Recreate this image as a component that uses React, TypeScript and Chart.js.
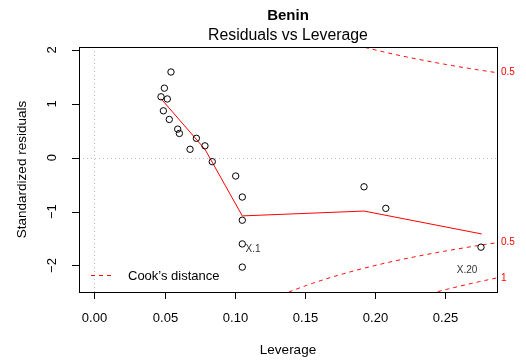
import { useEffect, useRef } from "react";
import { Chart, registerables } from "chart.js";

Chart.register(...registerables);

// Observations: leverage (hat values) and standardized residuals
const leverage = [
  0.0546, 0.0499, 0.0475, 0.052, 0.0492, 0.0534, 0.0594, 0.0606, 0.0727, 0.0682,
  0.0788, 0.084, 0.1007, 0.1054, 0.1054, 0.1054, 0.1054, 0.1921, 0.2076, 0.2754,
];
const stdResiduals = [
  1.59, 1.29, 1.13, 1.09, 0.87, 0.71, 0.53, 0.45, 0.36, 0.156,
  0.22, -0.074, -0.34, -0.73, -1.16, -1.6, -2.03, -0.54, -0.94, -1.66,
];

// Smoother through the residuals
const smoothLeverage = [0.0475, 0.0788, 0.1054, 0.1921, 0.2759];
const smoothResidual = [1.095, 0.157, -1.08, -0.99, -1.415];

// Labelled observations (text anchor in data units)
const idLabels = ["X.1", "X.20"];
const idLabelLeverage = [0.113, 0.2655];
const idLabelResidual = [-1.694, -2.084];

// Cook's distance contour levels and number of model parameters
const cookLevels = [0.5, 1];
const nParams = 2;

const xTicks = [0, 0.05, 0.1, 0.15, 0.2, 0.25];
const xTickLabels = ["0.00", "0.05", "0.10", "0.15", "0.20", "0.25"];
const yTicks = [-2, -1, 0, 1, 2];
const yTickLabels = ["\u22122", "\u22121", "0", "1", "2"];

const xRange = [-0.0109, 0.2868];
const yRange = [-2.492, 2.054];

const FONT = '"Liberation Sans", Arial, Helvetica, sans-serif';
const RED = "#FF0000";

// Cook's distance contour: r = ±sqrt(D * p * (1 - h) / h)
function cookCurve(level: number, sign: number) {
  const pts: { x: number; y: number }[] = [];
  const h0 = 0.01;
  const h1 = xRange[1];
  const n = 200;
  for (let i = 0; i <= n; i++) {
    const h = h0 + ((h1 - h0) * i) / n;
    pts.push({ x: h, y: sign * Math.sqrt((level * nParams * (1 - h)) / h) });
  }
  return pts;
}

const framePlugin = {
  id: "rFrame",
  beforeDatasetsDraw(chart: any) {
    const { ctx, chartArea: a, scales } = chart;
    const x0 = Math.round(scales.x.getPixelForValue(0)) + 0.5;
    const y0 = Math.round(scales.y.getPixelForValue(0)) + 0.5;
    ctx.save();
    ctx.strokeStyle = "#BEBEBE";
    ctx.lineWidth = 1;
    ctx.setLineDash([1, 3]);
    ctx.beginPath();
    ctx.moveTo(a.left, y0);
    ctx.lineTo(a.right, y0);
    ctx.moveTo(x0, a.top);
    ctx.lineTo(x0, a.bottom);
    ctx.stroke();
    ctx.restore();
  },
  afterDraw(chart: any) {
    const { ctx, chartArea: a, scales } = chart;
    const xs = scales.x;
    const ys = scales.y;
    ctx.save();

    // frame
    ctx.strokeStyle = "#000";
    ctx.lineWidth = 1;
    ctx.setLineDash([]);
    ctx.strokeRect(Math.round(a.left) + 0.5, Math.round(a.top) + 0.5,
      Math.round(a.right - a.left), Math.round(a.bottom - a.top));

    // x axis ticks and labels
    ctx.fillStyle = "#000";
    ctx.font = `13px ${FONT}`;
    ctx.textAlign = "center";
    ctx.textBaseline = "middle";
    ctx.beginPath();
    xTicks.forEach((v, i) => {
      const px = Math.round(xs.getPixelForValue(v)) + 0.5;
      ctx.moveTo(px, a.bottom);
      ctx.lineTo(px, a.bottom + 7);
      ctx.fillText(xTickLabels[i], px, a.bottom + 26);
    });
    ctx.stroke();

    // y axis ticks and rotated labels
    ctx.beginPath();
    yTicks.forEach((v) => {
      const py = Math.round(ys.getPixelForValue(v)) + 0.5;
      ctx.moveTo(a.left, py);
      ctx.lineTo(a.left - 7, py);
    });
    ctx.stroke();
    yTicks.forEach((v, i) => {
      const py = ys.getPixelForValue(v);
      ctx.save();
      ctx.translate(a.left - 27, py);
      ctx.rotate(-Math.PI / 2);
      ctx.fillText(yTickLabels[i], 0, 0);
      ctx.restore();
    });

    // axis titles
    const cx = (a.left + a.right) / 2;
    const cy = (a.top + a.bottom) / 2;
    ctx.font = `13.5px ${FONT}`;
    ctx.fillText("Leverage", cx, a.bottom + 58);
    ctx.save();
    ctx.translate(22.5, cy);
    ctx.rotate(-Math.PI / 2);
    ctx.fillText("Standardized residuals", 0, 0);
    ctx.restore();

    // titles
    ctx.textBaseline = "alphabetic";
    ctx.font = `bold 15px ${FONT}`;
    ctx.fillText("Benin", cx, 20);
    ctx.font = `15.8px ${FONT}`;
    ctx.fillText("Residuals vs Leverage", cx, 40);
    ctx.textBaseline = "middle";

    // Cook's distance contour labels at the right margin
    ctx.font = `10px ${FONT}`;
    ctx.fillStyle = RED;
    ctx.textAlign = "left";
    const hMax = xRange[1];
    cookLevels.forEach((lv) => {
      const r = Math.sqrt((lv * nParams * (1 - hMax)) / hMax);
      [r, -r].forEach((yv) => {
        if (yv < yRange[0] || yv > yRange[1]) return;
        ctx.fillText(String(lv), a.right + 4, ys.getPixelForValue(yv));
      });
    });

    // observation ids
    ctx.fillStyle = "#333";
    ctx.textAlign = "center";
    idLabels.forEach((t, i) => {
      ctx.fillText(t, xs.getPixelForValue(idLabelLeverage[i]), ys.getPixelForValue(idLabelResidual[i]));
    });

    // legend
    const ly = a.bottom - 16.5;
    ctx.strokeStyle = RED;
    ctx.setLineDash([4, 4]);
    ctx.beginPath();
    ctx.moveTo(a.left + 12, ly);
    ctx.lineTo(a.left + 33, ly);
    ctx.stroke();
    ctx.setLineDash([]);
    ctx.fillStyle = "#000";
    ctx.font = `13px ${FONT}`;
    ctx.textAlign = "left";
    ctx.fillText("Cook\u2019s distance", a.left + 49, ly + 0.5);

    ctx.restore();
  },
};

export default function App() {
  const canvasRef = useRef<HTMLCanvasElement | null>(null);

  useEffect(() => {
    if (!canvasRef.current) return;
    const points = leverage.map((h, i) => ({ x: h, y: stdResiduals[i] }));
    const smooth = smoothLeverage.map((h, i) => ({ x: h, y: smoothResidual[i] }));
    const cookSets = cookLevels.flatMap((lv) => [1, -1].map((s) => ({
      data: cookCurve(lv, s),
      showLine: true,
      borderColor: RED,
      borderWidth: 1,
      borderDash: [4, 4],
      pointRadius: 0,
      fill: false,
      tension: 0,
      clip: 0,
    })));

    const chart = new Chart(canvasRef.current, {
      type: "scatter",
      data: {
        datasets: [
          {
            data: points,
            pointStyle: "circle",
            pointRadius: 3.2,
            pointBorderWidth: 1,
            pointBorderColor: "#000",
            pointBackgroundColor: "rgba(0,0,0,0)",
            showLine: false,
            clip: 6,
          } as any,
          {
            data: smooth,
            showLine: true,
            borderColor: RED,
            borderWidth: 1,
            pointRadius: 0,
            tension: 0,
            clip: 0,
          },
          ...cookSets,
        ],
      },
      options: {
        animation: false,
        responsive: false,
        devicePixelRatio: 1,
        layout: { padding: { left: 79, top: 47, right: 29, bottom: 72 } },
        plugins: { legend: { display: false }, tooltip: { enabled: false }, title: { display: false } },
        scales: {
          x: { type: "linear", min: xRange[0], max: xRange[1], display: false },
          y: { type: "linear", min: yRange[0], max: yRange[1], display: false },
        },
      },
      plugins: [framePlugin],
    } as any);
    return () => chart.destroy();
  }, []);

  return (
    <div style={{ position: "fixed", left: 0, top: 0, width: 526, height: 364, background: "#fff" }}>
      <canvas ref={canvasRef} width={526} height={364} style={{ display: "block" }} />
    </div>
  );
}
